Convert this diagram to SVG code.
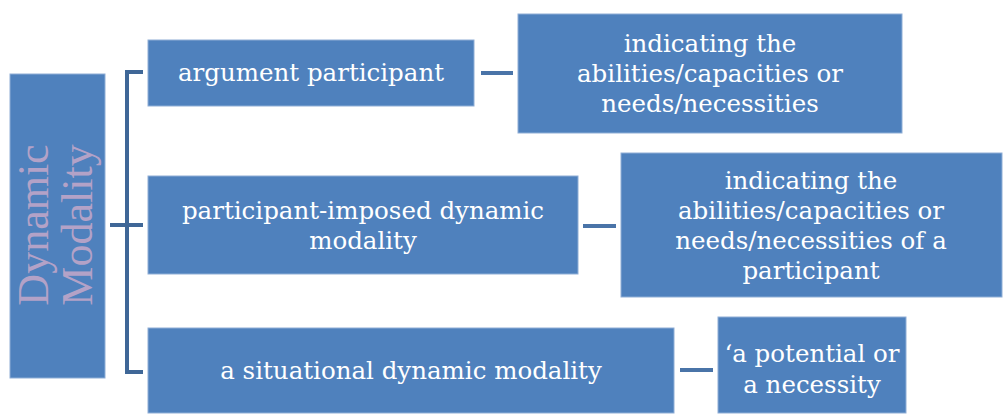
<svg xmlns="http://www.w3.org/2000/svg" width="1003" height="415" viewBox="0 0 1003 415">
<style>
.box{fill:#4F81BD;stroke:#8FAED6;stroke-width:1}
.t{font-family:"DejaVu Serif",serif;font-size:24.5px;fill:#FFFFFF;text-anchor:middle}
.lt{font-family:"Liberation Serif",serif;font-size:44px;fill:#B3A2C7;text-anchor:middle}
.br{fill:none;stroke:#3F6797;stroke-width:4}
.cn{stroke:#4A74A8;stroke-width:4}
</style>
<rect width="1003" height="415" fill="#FFFFFF"/>
<g id="root">
<rect class="box" x="10" y="74" width="95" height="304"/>
<text class="lt" transform="translate(48,225) rotate(-90)">Dynamic</text>
<text class="lt" transform="translate(92,225) rotate(-90)">Modality</text>
</g>
<g id="connectors">
<path class="br" d="M143,72 H127 V372 H143 M110,225 H143"/>
<line class="cn" x1="481" y1="73" x2="513" y2="73"/>
<line class="cn" x1="583" y1="226" x2="616" y2="226"/>
<line class="cn" x1="680" y1="370" x2="713" y2="370"/>
</g>
<g id="n1">
<rect class="box" x="148" y="40" width="326" height="66"/>
<text class="t" x="311" y="81">argument participant</text>
</g>
<g id="n1b">
<rect class="box" x="518" y="14" width="384" height="119"/>
<text class="t" x="710" y="52">indicating the</text>
<text class="t" x="710" y="82">abilities/capacities or</text>
<text class="t" x="710" y="112">needs/necessities</text>
</g>
<g id="n2">
<rect class="box" x="148" y="176" width="430" height="98"/>
<text class="t" x="363" y="219">participant-imposed dynamic</text>
<text class="t" x="363" y="249">modality</text>
</g>
<g id="n2b">
<rect class="box" x="621" y="153" width="381" height="144"/>
<text class="t" x="811" y="189">indicating the</text>
<text class="t" x="811" y="219">abilities/capacities or</text>
<text class="t" x="811" y="249">needs/necessities of a</text>
<text class="t" x="811" y="279">participant</text>
</g>
<g id="n3">
<rect class="box" x="148" y="328" width="526" height="85"/>
<text class="t" x="411" y="379">a situational dynamic modality</text>
</g>
<g id="n3b">
<rect class="box" x="718" y="317" width="188" height="96"/>
<text class="t" x="812" y="362">‘a potential or</text>
<text class="t" x="812" y="393">a necessity</text>
</g>
</svg>
